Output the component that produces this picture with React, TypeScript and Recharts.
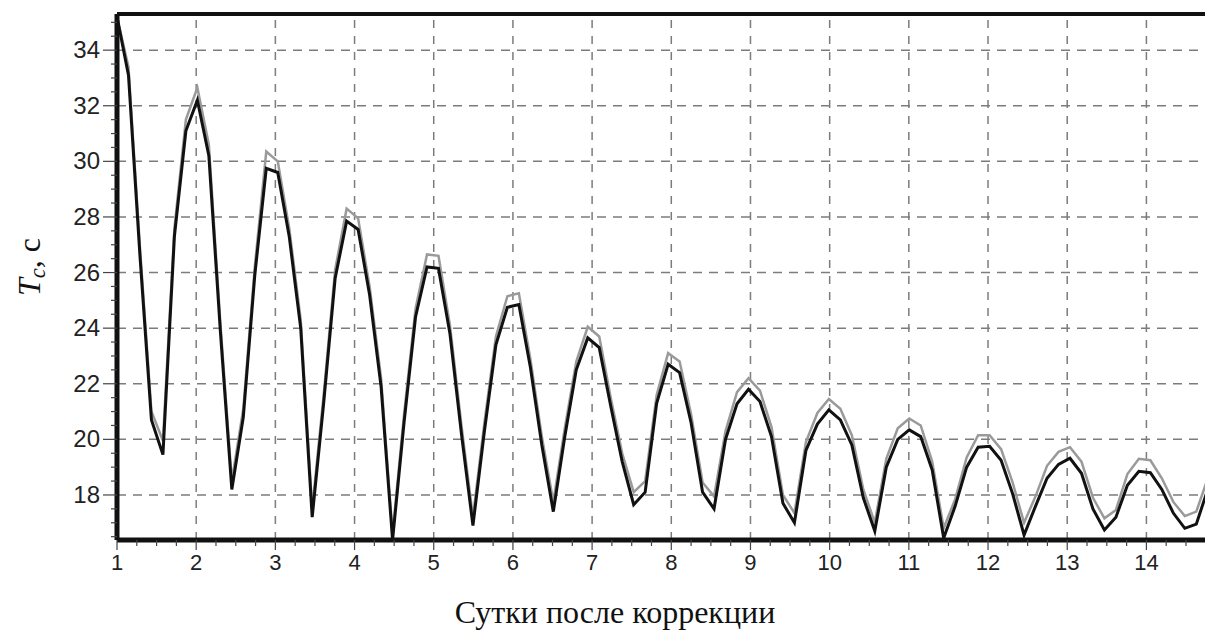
import React from 'react';
import { LineChart, Line, XAxis, YAxis, ReferenceLine } from 'recharts';

// sample times, days after correction
const days = [
  1.0, 1.145, 1.29, 1.435, 1.58, 1.725, 1.87, 2.015, 2.16, 2.305,
  2.45, 2.595, 2.74, 2.885, 3.03, 3.175, 3.32, 3.465, 3.61, 3.755,
  3.9, 4.045, 4.19, 4.335, 4.48, 4.625, 4.77, 4.915, 5.06, 5.205,
  5.35, 5.495, 5.64, 5.785, 5.93, 6.075, 6.22, 6.365, 6.51, 6.655,
  6.8, 6.945, 7.09, 7.235, 7.38, 7.525, 7.67, 7.815, 7.96, 8.105,
  8.25, 8.395, 8.54, 8.685, 8.83, 8.975, 9.12, 9.265, 9.41, 9.555,
  9.7, 9.845, 9.99, 10.135, 10.28, 10.425, 10.57, 10.715, 10.86, 11.005,
  11.15, 11.295, 11.44, 11.585, 11.73, 11.875, 12.02, 12.165, 12.31, 12.455,
  12.6, 12.745, 12.89, 13.035, 13.18, 13.325, 13.47, 13.615, 13.76, 13.905,
  14.05, 14.195, 14.34, 14.485, 14.63, 14.775,
];

// Tc, s - main (black) curve
const tcBlack = [
  35.2, 33.1, 26.6, 20.7, 19.45, 27.3, 31.1, 32.2, 30.2, 23.9,
  18.2, 20.8, 25.9, 29.75, 29.6, 27.3, 24.0, 17.2, 21.3, 25.8,
  27.85, 27.55, 25.2, 21.9, 16.38, 20.6, 24.4, 26.2, 26.15, 23.8,
  20.2, 16.9, 20.3, 23.4, 24.75, 24.85, 22.6, 19.8, 17.4, 20.1,
  22.5, 23.65, 23.3, 21.2, 19.2, 17.65, 18.1, 21.3, 22.7, 22.4,
  20.6, 18.1, 17.5, 20.0, 21.28, 21.8, 21.36, 20.1, 17.7, 17.0,
  19.6, 20.55, 21.06, 20.7, 19.8, 17.9, 16.7, 19.0, 20.0, 20.34,
  20.1, 18.9, 16.45, 17.6, 19.0, 19.72, 19.75, 19.25, 18.05, 16.56,
  17.6, 18.6, 19.1, 19.32, 18.78, 17.5, 16.74, 17.2, 18.35, 18.85,
  18.8, 18.2, 17.35, 16.8, 16.95, 18.2,
];

// Tc, s - second (grey) curve
const tcGrey = [
  35.2, 33.4, 26.9, 21.0, 19.95, 27.6, 31.5, 32.65, 30.6, 24.2,
  18.5, 21.1, 26.2, 30.35, 30.0, 27.6, 24.3, 17.5, 21.6, 26.1,
  28.3, 27.95, 25.5, 22.2, 16.6, 20.9, 24.7, 26.65, 26.6, 24.1,
  20.5, 17.2, 20.6, 23.7, 25.15, 25.25, 22.9, 20.1, 17.75, 20.4,
  22.8, 24.05, 23.7, 21.5, 19.5, 18.1, 18.5, 21.6, 23.1, 22.8,
  20.9, 18.45, 17.95, 20.3, 21.7, 22.2, 21.75, 20.45, 18.0, 17.35,
  19.9, 20.95, 21.45, 21.1, 20.15, 18.2, 17.0, 19.3, 20.4, 20.75,
  20.5, 19.2, 16.8, 17.85, 19.35, 20.15, 20.15, 19.65, 18.45, 17.0,
  17.95, 19.05, 19.55, 19.72, 19.2, 17.9, 17.16, 17.46, 18.75, 19.3,
  19.25, 18.6, 17.75, 17.24, 17.4, 18.6,
];

const dayTicks = [1, 2, 3, 4, 5, 6, 7, 8, 9, 10, 11, 12, 13, 14];
const tcTicks = [18, 20, 22, 24, 26, 28, 30, 32, 34];

const X_MIN = 1;
const X_MAX = 14.74;
const Y_MIN = 16.38;
const Y_MAX = 35.3;

const data = days.map((day, i) => ({ day, black: tcBlack[i], grey: tcGrey[i] }));

// small ticks: every quarter day on x, every 0.5 s on y
const xAllTicks: number[] = [];
for (let i = 0; X_MIN + i * 0.25 <= X_MAX; i++) xAllTicks.push(X_MIN + i * 0.25);
const yAllTicks: number[] = [];
for (let i = 0; 16.5 + i * 0.5 <= 35; i++) yAllTicks.push(16.5 + i * 0.5);

const tickFont = '"Liberation Sans", Arial, sans-serif';
const titleFont = '"Liberation Serif", "Times New Roman", serif';
const gridColor = '#7c7c7c';

const XTick = (props: any) => {
  const { x, y, payload } = props;
  const major = Number.isInteger(payload.value);
  return (
    <g>
      <line x1={x} x2={x} y1={y} y2={y + (major ? 10 : 6)} stroke="#444" strokeWidth={1.2} />
      {major && (
        <text x={x} y={y + 30} textAnchor="middle" fontSize={22} fill="#222" fontFamily={tickFont}>
          {payload.value}
        </text>
      )}
    </g>
  );
};

const YTick = (props: any) => {
  const { x, y, payload } = props;
  const major = tcTicks.includes(payload.value);
  return (
    <g>
      <line x1={x - (major ? 14 : 6)} x2={x} y1={y} y2={y} stroke="#444" strokeWidth={1.2} />
      {major && (
        <text x={x - 17} y={y} dy={8} textAnchor="end" fontSize={24} fill="#222" fontFamily={tickFont}>
          {payload.value}
        </text>
      )}
    </g>
  );
};

export default function App() {
  return (
    <div style={{ position: 'absolute', left: 0, top: 0, width: 1205, height: 639, background: '#fff' }}>
      <LineChart width={1205} height={639} data={data} margin={{ top: 14, right: 0, bottom: 59, left: 0 }}>
        <XAxis
          dataKey="day"
          type="number"
          domain={[X_MIN, X_MAX]}
          allowDataOverflow
          ticks={xAllTicks}
          interval={0}
          height={40}
          tickSize={0}
          tickMargin={0}
          tickLine={false}
          tick={<XTick />}
          axisLine={{ stroke: '#111', strokeWidth: 5 }}
        />
        <YAxis
          type="number"
          domain={[Y_MIN, Y_MAX]}
          allowDataOverflow
          ticks={yAllTicks}
          interval={0}
          width={117}
          tickSize={0}
          tickMargin={0}
          tickLine={false}
          tick={<YTick />}
          axisLine={{ stroke: '#111', strokeWidth: 5 }}
        />
        {dayTicks.slice(1).map((d) => (
          <ReferenceLine key={`vx-${d}`} x={d} stroke={gridColor} strokeWidth={1.5} strokeDasharray="8 8" />
        ))}
        {tcTicks.map((v) => (
          <ReferenceLine key={`hy-${v}`} y={v} stroke={gridColor} strokeWidth={1.5} strokeDasharray="9 7" />
        ))}
        <ReferenceLine y={Y_MAX} stroke="#111" strokeWidth={4} />
        <Line
          type="linear"
          dataKey="grey"
          stroke="#9a9a9a"
          strokeWidth={2.5}
          dot={false}
          isAnimationActive={false}
        />
        <Line
          type="linear"
          dataKey="black"
          stroke="#111"
          strokeWidth={3}
          dot={false}
          isAnimationActive={false}
        />
      </LineChart>
      <div
        style={{
          position: 'absolute',
          left: 31,
          top: 267,
          transform: 'translate(-50%, -50%) rotate(-90deg)',
          fontFamily: titleFont,
          fontSize: 32,
          whiteSpace: 'nowrap',
          color: '#111',
        }}
      >
        <i>T</i>
        <sub style={{ fontSize: '0.7em', verticalAlign: '-0.25em' }}>
          <i>c</i>
        </sub>
        , c
      </div>
      <div
        style={{
          position: 'absolute',
          left: 615,
          top: 612,
          transform: 'translate(-50%, -50%)',
          fontFamily: titleFont,
          fontSize: 32,
          whiteSpace: 'nowrap',
          color: '#111',
        }}
      >
        Сутки после коррекции
      </div>
    </div>
  );
}
